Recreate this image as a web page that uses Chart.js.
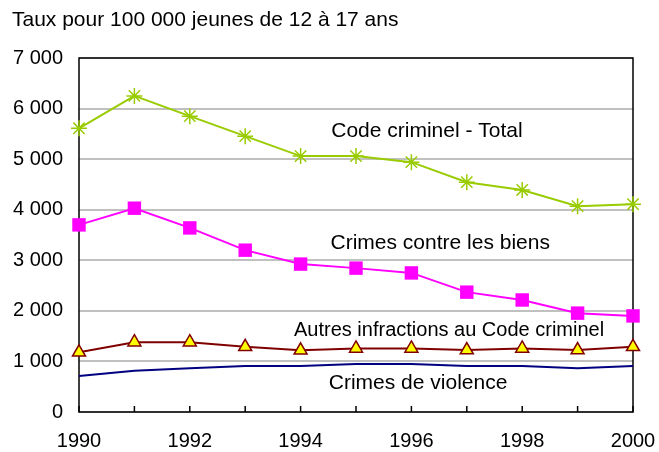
<!DOCTYPE html>
<html>
<head>
<meta charset="utf-8">
<script src="https://cdn.jsdelivr.net/npm/chart.js@4.4.0/dist/chart.umd.min.js"></script>
<style>
  html, body { margin: 0; padding: 0; background: #fff; }
  #wrap { width: 659px; height: 452px; }
</style>
</head>
<body>
<div id="wrap"><canvas id="chart_canvas"></canvas></div>
<script>
// years and rates per 100 000 youths
var years = [1990, 1991, 1992, 1993, 1994, 1995, 1996, 1997, 1998, 1999, 2000];
var codeTotal = [5610, 6250, 5850, 5455, 5060, 5060, 4940, 4545, 4390, 4070, 4110];
var biens = [3700, 4030, 3640, 3200, 2925, 2845, 2750, 2370, 2215, 1955, 1900];
var autres = [1180, 1380, 1380, 1290, 1220, 1258, 1258, 1225, 1258, 1225, 1290];
var violence = [710, 815, 865, 910, 910, 950, 950, 910, 910, 865, 910];
var yTicks = [0, 1000, 2000, 3000, 4000, 5000, 6000, 7000];
var titleText = "Taux pour 100 000 jeunes de 12 à 17 ans";

// series labels written inside the plot: [text, x (year), y (rate)]
var seriesLabels = [
    ["Code criminel - Total", 1996.28, 5550],
    ["Crimes contre les biens", 1996.52, 3340],
    ["Autres infractions au Code criminel", 1996.68, 1620],
    ["Crimes de violence", 1996.12, 573]
];

var FONT = "'Liberation Sans', Arial, sans-serif";

function pts(arr) {
    return years.map(function (y, i) { return { x: y, y: arr[i] }; });
}

function fmt(v) {
    return String(v).replace(/\B(?=(\d{3})+(?!\d))/g, " ");
}

var boxPlugin = {
    id: "boxPlugin",
    beforeDatasetsDraw: function (chart) {
        var ctx = chart.ctx, a = chart.chartArea;
        var xs = chart.scales.x, ys = chart.scales.y;
        ctx.save();
        ctx.strokeStyle = "#000";
        ctx.lineWidth = 1.5;
        ctx.strokeRect(a.left, a.top, a.right - a.left, a.bottom - a.top);
        // inward tick marks on the year axis
        years.forEach(function (y) {
            var px = xs.getPixelForValue(y);
            ctx.beginPath();
            ctx.moveTo(px, a.bottom);
            ctx.lineTo(px, a.bottom - 6);
            ctx.stroke();
        });
        ctx.fillStyle = "#000";
        ctx.textAlign = "center";
        ctx.textBaseline = "middle";
        seriesLabels.forEach(function (l, i) {
            ctx.font = (i === 2 ? "20px " : "21px ") + FONT;
            ctx.fillText(l[0], xs.getPixelForValue(l[1]), ys.getPixelForValue(l[2]));
        });
        ctx.restore();
    }
};

new Chart(document.getElementById("chart_canvas").getContext("2d"), {
    type: "line",
    data: {
        datasets: [
            {
                label: "Crimes de violence",
                data: pts(violence),
                borderColor: "#000080",
                borderWidth: 2,
                pointRadius: 0,
                fill: false
            }, {
                label: "Autres infractions au Code criminel",
                data: pts(autres),
                borderColor: "#800000",
                borderWidth: 2,
                pointStyle: "triangle",
                pointRadius: 7.5,
                pointBackgroundColor: "#ffff00",
                pointBorderColor: "#800000",
                pointBorderWidth: 1.5,
                fill: false
            }, {
                label: "Crimes contre les biens",
                data: pts(biens),
                borderColor: "#ff00ff",
                borderWidth: 2,
                pointStyle: "rect",
                pointRadius: 9.5,
                pointBackgroundColor: "#ff00ff",
                pointBorderColor: "#ff00ff",
                pointBorderWidth: 0,
                fill: false
            }, {
                label: "Code criminel - Total",
                data: pts(codeTotal),
                borderColor: "#99cc00",
                borderWidth: 2,
                pointStyle: "star",
                pointRadius: 8,
                pointBorderColor: "#99cc00",
                pointBorderWidth: 1.5,
                fill: false
            }
        ]
    },
    options: {
        responsive: true,
        maintainAspectRatio: false,
        animation: false,
        clip: false,
        layout: { padding: { left: 12, right: 26, top: 0, bottom: 0 } },
        plugins: {
            legend: { display: false },
            tooltip: { enabled: false },
            title: {
                display: true,
                text: titleText,
                align: "start",
                color: "#000",
                font: { family: FONT, size: 21, weight: "normal" },
                padding: { top: 8, bottom: 24.8 }
            }
        },
        scales: {
            x: {
                type: "linear",
                min: years[0],
                max: years[years.length - 1],
                afterFit: function (scale) {
                    scale.height = 40;
                    scale.paddingLeft = 0;
                    scale.paddingRight = 0;
                },
                grid: { display: false, drawTicks: false },
                border: { display: false },
                ticks: {
                    stepSize: 1,
                    padding: 17,
                    color: "#000",
                    font: { family: FONT, size: 20 },
                    callback: function (v) { return v % 2 === 0 ? String(v) : ""; }
                }
            },
            y: {
                min: yTicks[0],
                max: yTicks[yTicks.length - 1],
                afterFit: function (scale) { scale.width = 67; },
                afterBuildTicks: function (scale) {
                    scale.ticks = yTicks.map(function (v) { return { value: v }; });
                },
                grid: { color: "#c0c0c0", lineWidth: 2, drawTicks: false },
                border: { display: false },
                ticks: {
                    padding: 16,
                    color: "#000",
                    font: { family: FONT, size: 20 },
                    callback: function (v) { return fmt(v); }
                }
            }
        }
    },
    plugins: [boxPlugin]
});
</script>
</body>
</html>
